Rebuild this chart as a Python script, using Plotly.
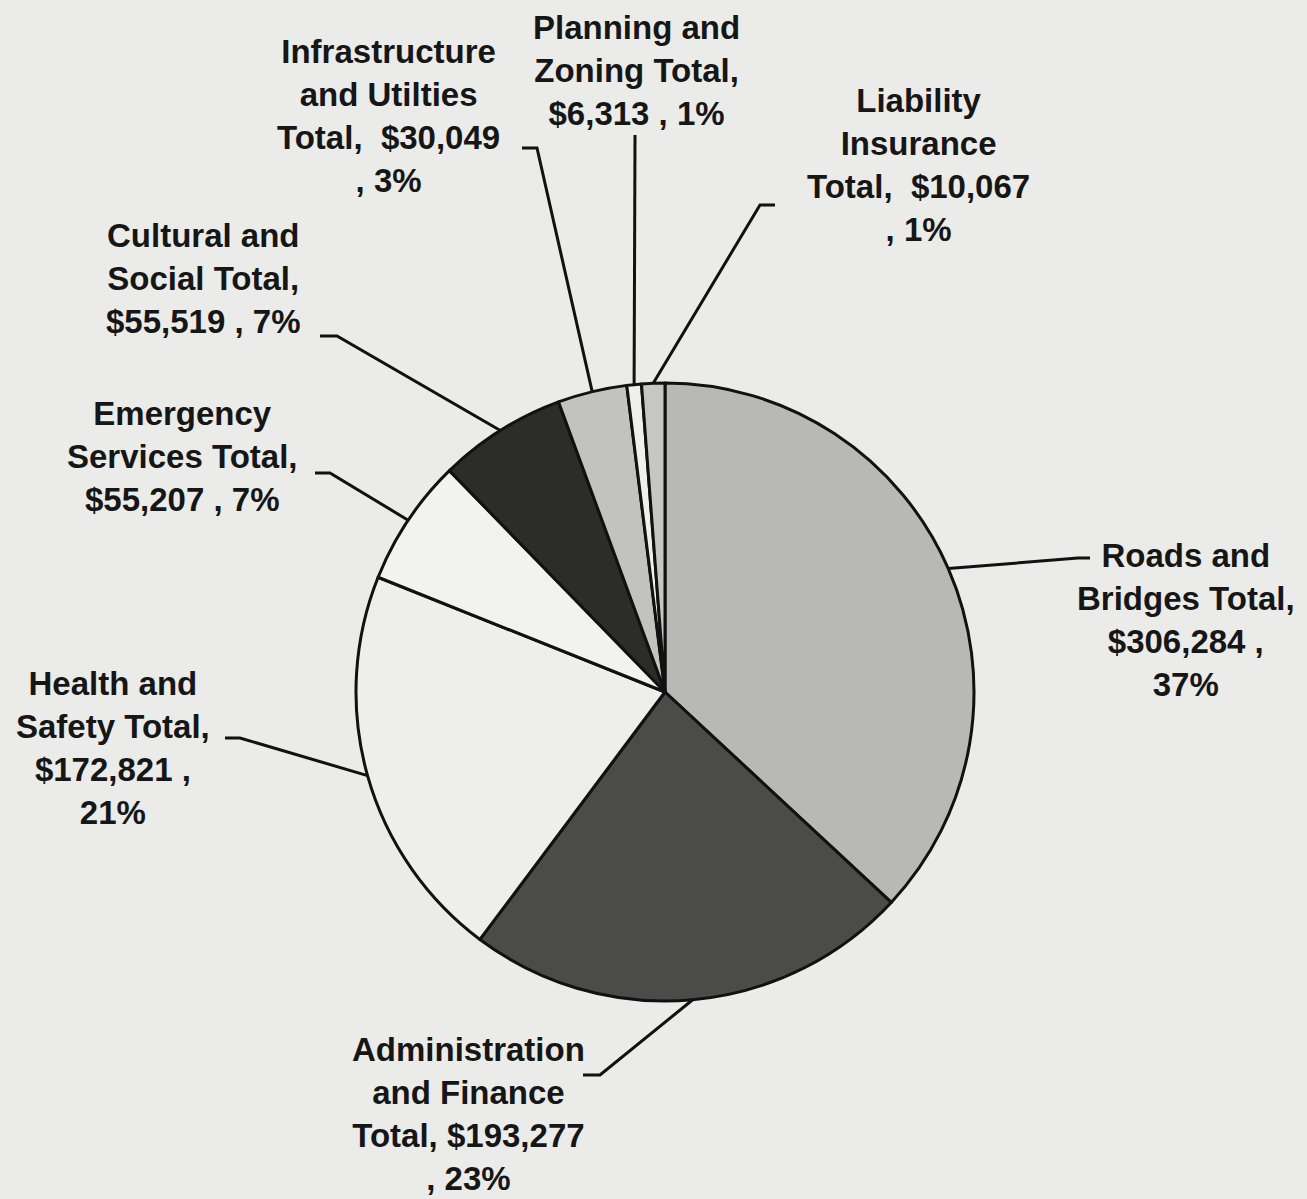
import math
import plotly.graph_objects as go

W, H = 1307, 1199

categories = [
    "Roads and Bridges", "Administration and Finance", "Health and Safety",
    "Emergency Services", "Cultural and Social", "Infrastructure and Utilities",
    "Planning and Zoning", "Liability Insurance",
]
values = [306284, 193277, 172821, 55207, 55519, 30049, 6313, 10067]
percent_labels = ["37%", "23%", "21%", "7%", "7%", "3%", "1%", "1%"]
label_texts = [
    "Roads and<br>Bridges Total,<br>$306,284 ,<br>37%",
    "Administration<br>and Finance<br>Total, $193,277<br>, 23%",
    "Health and<br>Safety Total,<br>$172,821 ,<br>21%",
    "Emergency<br>Services Total,<br>$55,207 , 7%",
    "Cultural and<br>Social Total,<br>$55,519 , 7%",
    "Infrastructure<br>and Utilties<br>Total,\u00a0 $30,049<br>, 3%",
    "Planning and<br>Zoning Total,<br>$6,313 , 1%",
    "Liability<br>Insurance<br>Total,\u00a0 $10,067<br>, 1%",
]
slice_colors = ["#b8b8b5", "#4b4b49", "#eeeeec", "#f2f2f0",
                "#2c2c2b", "#c2c2bf", "#efefed", "#c6c6c3"]

# layout (pixel) settings
CX, CY, R = 665, 692, 309
label_pos = [(1186, 620), (468, 1114), (113, 748), (182, 456),
             (203, 278), (388, 116), (636, 71), (918, 165)]
leader_bends = [
    [(1078, 558), (1090, 558)],
    [(600, 1075), (583, 1075)],
    [(240, 738), (225, 738)],
    [(330, 473), (315, 473)],
    [(337, 336), (320, 336)],
    [(537, 148), (522, 148)],
    [(635, 135)],
    [(760, 205), (775, 205)],
]


def px(x, y):
    return x / W, 1 - y / H


fig = go.Figure()
fig.add_trace(go.Pie(
    labels=categories, values=values, sort=False, direction="clockwise",
    rotation=0, textinfo="none", hoverinfo="label+value+percent",
    marker=dict(colors=slice_colors, line=dict(color="#111111", width=3)),
    domain=dict(x=[(CX - R) / W, (CX + R) / W],
                y=[1 - (CY + R) / H, 1 - (CY - R) / H]),
    showlegend=False,
))

total = sum(values)
cum = 0.0
shapes = []
annotations = []
for i, v in enumerate(values):
    mid = (cum + v / 2) / total
    cum += v
    ang = 2 * math.pi * mid
    sx, sy = CX + R * math.sin(ang), CY - R * math.cos(ang)
    pts = [(sx, sy)] + leader_bends[i]
    path = ""
    for j, (x, y) in enumerate(pts):
        u, w = px(x, y)
        path += ("M" if j == 0 else " L") + f" {u:.5f},{w:.5f}"
    shapes.append(dict(type="path", path=path, xref="paper", yref="paper",
                       line=dict(color="#111111", width=3)))
    lx, ly = px(*label_pos[i])
    annotations.append(dict(
        x=lx, y=ly, xref="paper", yref="paper", text=label_texts[i],
        showarrow=False, xanchor="center", yanchor="middle", align="center",
        font=dict(family="Liberation Sans, Arial, sans-serif", size=33,
                  color="#161616", weight="bold"),
    ))

fig.update_layout(
    width=W, height=H, margin=dict(l=0, r=0, t=0, b=0),
    paper_bgcolor="#ebebe9", plot_bgcolor="#ebebe9",
    shapes=shapes, annotations=annotations,
)

fig.write_html("out.html")
